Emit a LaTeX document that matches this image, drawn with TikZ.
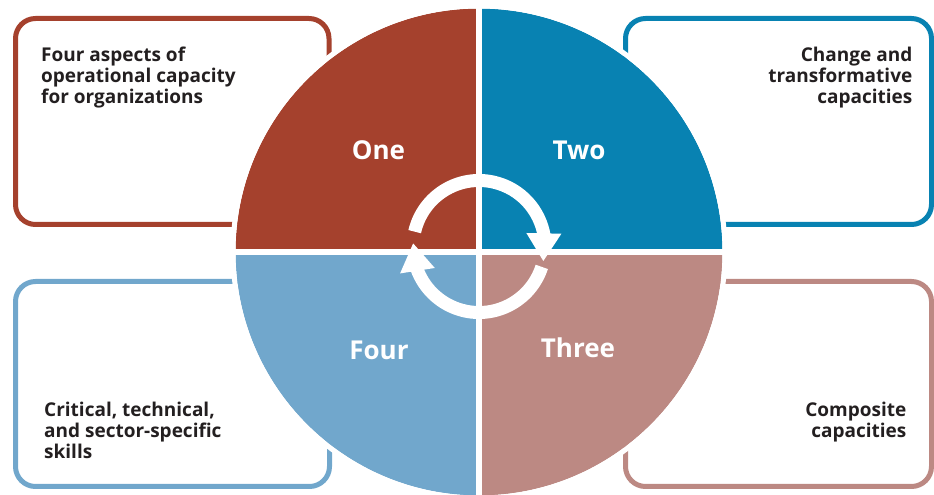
\documentclass[tikz,border=0pt]{standalone}
\usepackage{fontspec}
\setmainfont{Open Sans}
\usetikzlibrary{positioning}
\usetikzlibrary{arrows.meta, bending}

\definecolor{oneRed}{RGB}{165,65,45}
\definecolor{twoBlue}{RGB}{8,130,178}
\definecolor{threeRose}{RGB}{188,137,131}
\definecolor{fourBlue}{RGB}{113,167,204}
\definecolor{inkDark}{RGB}{35,31,32}

\tikzset{%
	% Specifications for style of nodes:
	boxBase/.style = {rectangle, rounded corners=20pt, line width=5pt,
		inner sep=0pt, minimum height=206pt},
	aspectBox/.style = {boxBase, draw=#1},
	boxText/.style = {inner sep=0pt, text=inkDark,
		font=\fontsize{19}{21.3}\selectfont\bfseries},
	quadLabel/.style = {inner sep=0pt, text=white,
		font=\fontsize{26}{30}\selectfont\bfseries},
	cycleArrow/.style = {draw=white, line width=13pt,
		-{Triangle[width=33pt, length=28pt, flex]}}
}

\begin{document}
\begin{tikzpicture}[x=1pt, y=1pt]
		\useasboundingbox (0,0) rectangle (934,495);
		% boxes behind the wheel
		\node (boxOne) [aspectBox=oneRed, minimum width=313.5pt] at (172.25,373.5) {};
		\node (boxTwo) [aspectBox=twoBlue, minimum width=306pt] at (778.5,373.5) {};
		\node (boxThree) [aspectBox=fourBlue, minimum width=314pt, minimum height=205pt] at (172.5,111) {};
		\node (boxFour) [aspectBox=threeRose, minimum width=306pt, minimum height=205pt] at (778.5,111) {};
		\node (txtOne) [boxText, anchor=north west, align=left] at ([shift={(28,-30.5)}]boxOne.north west) {Four aspects of\\operational capacity\\for organizations};
		\node (txtTwo) [boxText, anchor=north east, align=right] at ([shift={(-21.5,-30.5)}]boxTwo.north east) {Change and\\transformative\\capacities};
		\node (txtThree) [boxText, anchor=north west, align=left] at ([shift={(31,-122.5)}]boxThree.north west) {Critical, technical,\\and sector-specific\\skills};
		\node (txtFour) [boxText, anchor=north east, align=right] at ([shift={(-27.5,-123)}]boxFour.north east) {Composite\\capacities};
		% the wheel
		\coordinate (ctr) at (479,243);
		\fill[oneRed] (ctr) -- ++(180:243.5) arc (180:90:243.5) -- cycle;
		\fill[twoBlue] (ctr) -- ++(90:243.5) arc (90:0:243.5) -- cycle;
		\fill[threeRose] (ctr) -- ++(0:243.5) arc (0:-90:243.5) -- cycle;
		\fill[fourBlue] (ctr) -- ++(-90:243.5) arc (-90:-180:243.5) -- cycle;
		\draw[white, line width=5pt] (ctr) circle (246);
		\draw[white, line width=5.5pt] ([xshift=-248pt]ctr) -- ([xshift=248pt]ctr);
		\draw[white, line width=5.5pt] ([yshift=-248pt]ctr) -- ([yshift=248pt]ctr);
		\node (lblOne) [quadLabel] at (378.5,345) {One};
		\node (lblTwo) [quadLabel] at (579,345) {Two};
		\node (lblThree) [quadLabel] at (578,147) {Three};
		\node (lblFour) [quadLabel] at (379,145) {Four};
		% cycle arrows
		\coordinate (ringCtr) at (479,248.5);
		\draw[cycleArrow] ([shift={(167:66)}]ringCtr) arc (167:-13:66);
		\draw[cycleArrow] ([shift={(-18:66)}]ringCtr) arc (-18:-183:66);
	\end{tikzpicture}
\end{document}
